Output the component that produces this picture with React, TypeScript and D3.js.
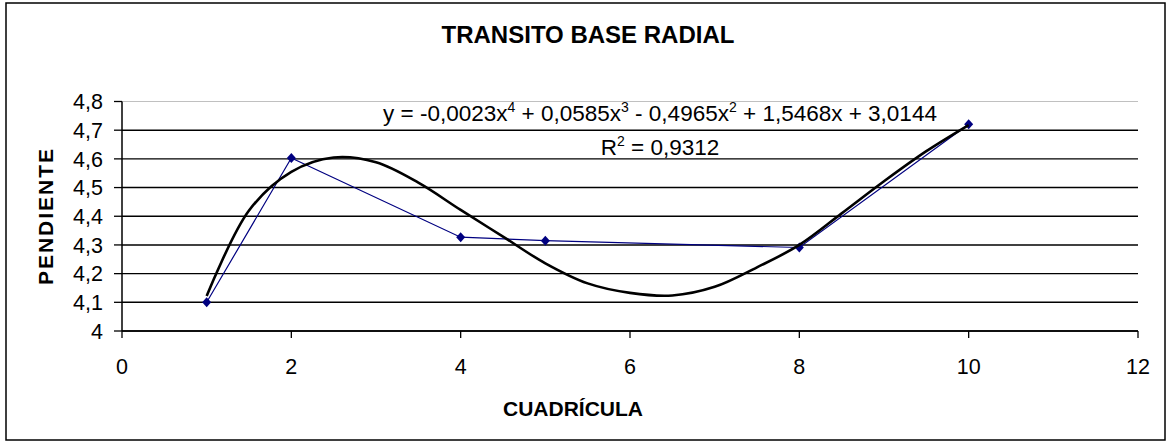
import React from 'react';
import * as d3 from 'd3';

// Observed data (CUADRÍCULA vs PENDIENTE)
const cuadricula = [1, 2, 4, 5, 8, 10];
const pendiente = [4.1, 4.603, 4.327, 4.315, 4.291, 4.721];

// Polynomial trendline, values
const trendX = [1, 1.5, 2, 2.5, 3, 3.5, 4, 4.5, 5, 5.5, 6, 6.5, 7, 7.5, 8, 8.5, 9, 9.5, 10];
const trendY = [4.122, 4.42, 4.555, 4.605, 4.588, 4.517, 4.422, 4.329, 4.236, 4.166, 4.133, 4.124, 4.154, 4.222, 4.3, 4.41, 4.522, 4.627, 4.718];

const xTicks = [0, 2, 4, 6, 8, 10, 12];
const yTicks = [4, 4.1, 4.2, 4.3, 4.4, 4.5, 4.6, 4.7, 4.8];

const title = 'TRANSITO BASE RADIAL';
const xTitle = 'CUADRÍCULA';
const yTitle = 'PENDIENTE';
const r2Label = '0,9312';

const W = 1167;
const H = 442;
const margin = { left: 122, right: 29, top: 101.5, bottom: 111 };
const font = '"Liberation Sans", Arial, sans-serif';

const fmt = (v: number) => (Number.isInteger(v) ? String(v) : v.toFixed(1).replace('.', ','));

export default function App() {
  const x = d3.scaleLinear().domain([0, 12]).range([margin.left, W - margin.right]);
  const y = d3.scaleLinear().domain([4, 4.8]).range([H - margin.bottom, margin.top]);

  const series = cuadricula.map((c, i) => [c, pendiente[i]] as [number, number]);
  const trend = trendX.map((t, i) => [t, trendY[i]] as [number, number]);

  const line = d3.line<[number, number]>().x(d => x(d[0])).y(d => y(d[1]));
  const smooth = d3
    .line<[number, number]>()
    .x(d => x(d[0]))
    .y(d => y(d[1]))
    .curve(d3.curveCatmullRom);

  const x0 = x(0);
  const y0 = y(4);

  return (
    <svg width={W} height={H} style={{ position: 'absolute', left: 0, top: 0, background: '#fff' }}>
      <rect x={6} y={3} width={1159} height={437} fill="#fff" stroke="#000" strokeWidth={1.5} />

      <text x={588} y={43} textAnchor="middle" fontFamily={font} fontWeight="bold" fontSize={24}>
        {title}
      </text>

      {/* gridlines */}
      {yTicks.map(t => (
        <line
          key={'g' + t}
          x1={x0}
          x2={x(12)}
          y1={y(t)}
          y2={y(t)}
          stroke={t === 4.8 ? '#c0c0c0' : '#000'}
          strokeWidth={t === 4.8 ? 1.2 : 1.4}
        />
      ))}

      {/* axes */}
      <line x1={x0} x2={x0} y1={y(4.8)} y2={y0} stroke="#000" strokeWidth={1.5} />
      <line x1={x0} x2={x(12)} y1={y0} y2={y0} stroke="#000" strokeWidth={1.5} />
      {yTicks.map(t => (
        <g key={'y' + t}>
          <line x1={x0 - 8} x2={x0} y1={y(t)} y2={y(t)} stroke="#000" strokeWidth={1.3} />
          <text x={103} y={y(t)} dy="0.36em" textAnchor="end" fontFamily={font} fontSize={21.5}>
            {fmt(t)}
          </text>
        </g>
      ))}
      {xTicks.map(t => (
        <g key={'x' + t}>
          <line x1={x(t)} x2={x(t)} y1={y0} y2={y0 + 7} stroke="#000" strokeWidth={1.3} />
          <text x={x(t)} y={374} textAnchor="middle" fontFamily={font} fontSize={21.5}>
            {fmt(t)}
          </text>
        </g>
      ))}

      <text x={573} y={416} textAnchor="middle" fontFamily={font} fontWeight="bold" fontSize={21}>
        {xTitle}
      </text>
      <text
        transform={`translate(53,216) rotate(-90)`}
        textAnchor="middle"
        fontFamily={font}
        fontWeight="bold"
        fontSize={21}
        letterSpacing={2}
      >
        {yTitle}
      </text>

      {/* data series */}
      <path d={line(series) || ''} fill="none" stroke="#000080" strokeWidth={1.2} />
      {series.map((d, i) => (
        <path
          key={'m' + i}
          transform={`translate(${x(d[0])},${y(d[1])})`}
          d="M0,-5L4.5,0L0,5L-4.5,0Z"
          fill="#000080"
        />
      ))}

      {/* trendline */}
      <path d={smooth(trend) || ''} fill="none" stroke="#000" strokeWidth={2.6} strokeLinejoin="round" />

      {/* equation */}
      <text x={660} y={121} textAnchor="middle" fontFamily={font} fontSize={22.5}>
        y = -0,0023x<tspan dy={-9} fontSize={14}>4</tspan>
        <tspan dy={9}> + 0,0585x</tspan>
        <tspan dy={-9} fontSize={14}>3</tspan>
        <tspan dy={9}> - 0,4965x</tspan>
        <tspan dy={-9} fontSize={14}>2</tspan>
        <tspan dy={9}> + 1,5468x + 3,0144</tspan>
      </text>
      <text x={660} y={155} textAnchor="middle" fontFamily={font} fontSize={22.5}>
        R<tspan dy={-9} fontSize={14}>2</tspan>
        <tspan dy={9}> = {r2Label}</tspan>
      </text>
    </svg>
  );
}
